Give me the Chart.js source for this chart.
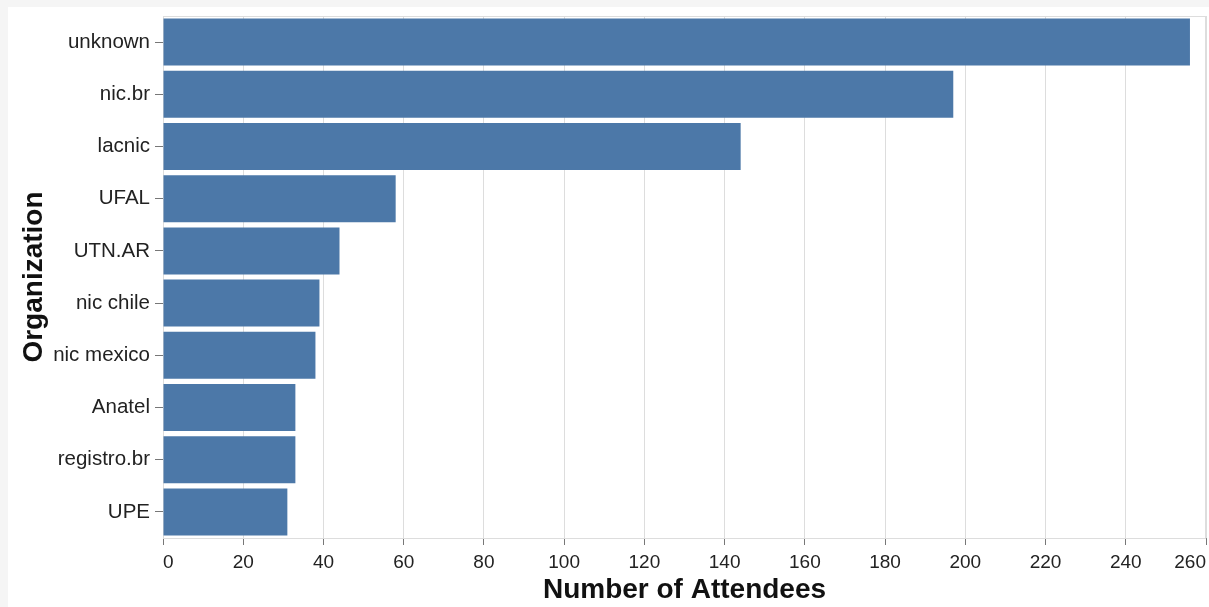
<!DOCTYPE html>
<html>
<head>
<meta charset="utf-8">
<script src="https://cdn.jsdelivr.net/npm/chart.js@4"></script>
<style>
    body { margin: 0; background: #f5f5f5; }
    #wrap { position: absolute; left: 8px; top: 7px; width: 1201px; height: 600px; background: #fff; }
</style>
</head>
<body>
<div id="wrap"><canvas id="orgChart"></canvas></div>
<script>
const organizations = ["unknown", "nic.br", "lacnic", "UFAL", "UTN.AR", "nic chile", "nic mexico", "Anatel", "registro.br", "UPE"];
const attendees = [256, 197, 144, 58, 44, 39, 38, 33, 33, 31];
const xTicks = [0, 260, 20]; // min, max, step

const FONT = "'Liberation Sans', Arial, sans-serif";

// light frame around the plot area, like the vega view stroke
const frame = {
    id: 'frame',
    beforeDatasetsDraw(chart) {
        const a = chart.chartArea, c = chart.ctx;
        c.save();
        c.strokeStyle = '#ddd';
        c.lineWidth = 1;
        c.strokeRect(a.left + 0.5, a.top + 0.5, a.right - a.left - 1, a.bottom - a.top);
        c.restore();
    }
};

function createChart() {
    const ctx = document.getElementById('orgChart').getContext('2d');
    ctx.canvas.width = 1201;
    ctx.canvas.height = 600;

    new Chart(ctx, {
        type: 'bar',
        data: {
            labels: organizations,
            datasets: [{
                label: 'Number of Attendees',
                data: attendees,
                backgroundColor: '#4c78a8',
                borderWidth: 0,
                categoryPercentage: 1,
                barPercentage: 0.9
            }]
        },
        options: {
            indexAxis: 'y',
            responsive: false,
            animation: false,
            layout: { padding: { top: 9, right: 3, left: 0, bottom: 0 } },
            plugins: { legend: { display: false }, tooltip: { enabled: false } },
            scales: {
                x: {
                    min: xTicks[0],
                    max: xTicks[1],
                    ticks: {
                        stepSize: xTicks[2],
                        align: 'inner',
                        color: '#222',
                        padding: 6,
                        font: { family: FONT, size: 19 }
                    },
                    grid: { color: '#ddd', tickColor: '#777', tickLength: 7 },
                    border: { color: '#888' },
                    title: {
                        display: true,
                        text: 'Number of Attendees',
                        color: '#111',
                        padding: { top: 0, bottom: 0 },
                        font: { family: FONT, size: 28, weight: 'bold' }
                    },
                    afterFit(s) {
                        s.height = 69;
                        s.paddingLeft = s.paddingRight = 0;
                    }
                },
                y: {
                    ticks: {
                        color: '#222',
                        padding: 5,
                        font: { family: FONT, size: 20.5 }
                    },
                    grid: { drawOnChartArea: false, offset: false, tickColor: '#777', tickLength: 8 },
                    border: { color: '#888' },
                    title: {
                        display: true,
                        text: 'Organization',
                        color: '#111',
                        padding: { top: 9, bottom: 0 },
                        font: { family: FONT, size: 28, weight: 'bold' }
                    },
                    afterFit(s) {
                        s.width = 155;
                        s.paddingTop = s.paddingBottom = 0;
                    }
                }
            }
        },
        plugins: [frame]
    });
}

document.addEventListener("DOMContentLoaded", function() {
    createChart();
});
</script>
</body>
</html>
